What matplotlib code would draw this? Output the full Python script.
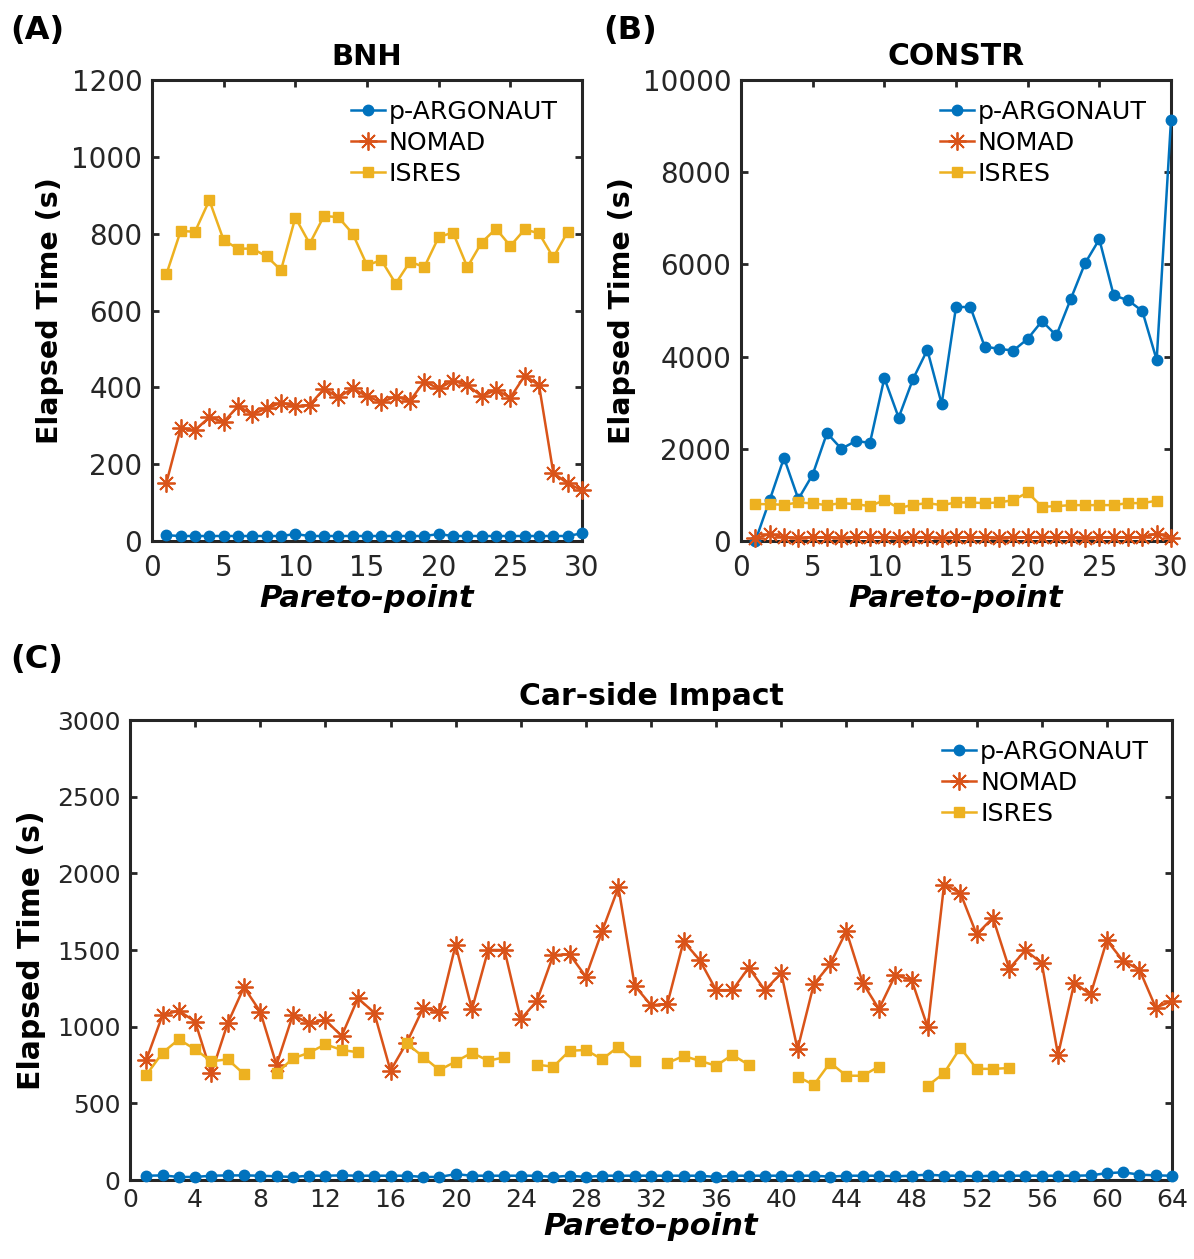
import numpy as np
import matplotlib
matplotlib.use("Agg")
import matplotlib.pyplot as plt

plt.rcParams['font.family'] = ['DejaVu Sans']

BLUE = '#0072BD'
ORANGE = '#D95319'
YELLOW = '#EDB120'
SPINE = '#262626'

series_names = ['p-ARGONAUT', 'NOMAD', 'ISRES']

# ---------------- Panel A: BNH ----------------
bnh_x = list(range(1, 31))
bnh_argonaut = [15, 13, 13, 13, 13, 13, 13, 13, 13, 18, 13, 13, 13, 13, 13,
                13, 13, 13, 13, 18, 13, 13, 13, 13, 13, 13, 13, 13, 13, 20]
bnh_nomad = [151, 293, 289, 322, 310, 351, 330, 345, 360, 351, 354, 396, 374, 397, 377,
             361, 376, 365, 415, 397, 417, 406, 377, 393, 373, 430, 406, 177, 150, 132]
bnh_isres_x = list(range(1, 30))
bnh_isres = [694, 807, 805, 887, 783, 761, 761, 741, 705, 842, 774, 846, 843, 800, 718,
             731, 670, 727, 713, 791, 803, 713, 777, 813, 768, 811, 801, 738, 805]

# ---------------- Panel B: CONSTR ----------------
con_x = list(range(1, 31))
con_argonaut = [0, 887, 1804, 909, 1440, 2342, 2000, 2167, 2131, 3534, 2676, 3513, 4145, 2972, 5076,
                5076, 4218, 4167, 4131, 4385, 4771, 4458, 5244, 6022, 6545, 5331, 5222, 4989, 3927, 9135]
con_nomad = [60, 150, 80, 75, 80, 80, 75, 80, 80, 85, 75, 80, 80, 75, 80,
             80, 80, 75, 80, 80, 85, 80, 80, 75, 80, 80, 80, 80, 160, 70]
con_isres_x = list(range(1, 30))
con_isres = [800, 800, 785, 836, 815, 778, 822, 800, 756, 887, 713, 785, 822, 778, 836,
             836, 822, 836, 887, 1054, 742, 756, 778, 778, 778, 778, 822, 822, 873]

# ---------------- Panel C: Car-side Impact ----------------
car_x = list(range(1, 65))
car_argonaut = [28, 30, 20, 20, 28, 30, 30, 28, 24, 20, 28, 28, 30, 28, 28, 28,
                28, 20, 20, 38, 28, 28, 28, 28, 28, 20, 28, 20, 28, 28, 28, 28,
                28, 28, 28, 20, 28, 28, 28, 28, 28, 28, 22, 28, 28, 28, 24, 28,
                35, 28, 28, 24, 28, 28, 28, 28, 28, 28, 30, 45, 50, 35, 30, 28]
car_nomad = [783, 1076, 1104, 1033, 696, 1022, 1257, 1098, 750, 1076, 1022, 1043, 939, 1185, 1091, 713,
             896, 1120, 1098, 1533, 1113, 1500, 1500, 1048, 1170, 1467, 1472, 1326, 1624, 1909, 1266, 1141,
             1147, 1556, 1433, 1238, 1238, 1385, 1238, 1350, 852, 1277, 1407, 1623, 1286, 1115, 1335, 1307,
             995, 1926, 1872, 1602, 1710, 1379, 1498, 1415, 816, 1286, 1210, 1563, 1428, 1372, 1125, 1166]
car_isres = [685, 830, 917, 852, 774, 787, 691, np.nan, 696, 793, 830, 885, 848, 833, np.nan, np.nan,
             891, 804, 717, 772, 830, 778, 800, np.nan, 752, 739, 843, 848, 787, 870, 774, np.nan,
             762, 809, 777, 745, 816, 751, np.nan, np.nan, 675, 620, 765, 680, 680, 740, np.nan, np.nan,
             615, 697, 863, 725, 725, 730, np.nan, np.nan, np.nan, np.nan, np.nan, np.nan, np.nan, np.nan,
             np.nan, np.nan]

ASTERISK = (8, 2, 0)


def style_axes(ax, xlim, xticks, ylim, yticks, tick_fs, xpad=9):
    ax.set_xlim(*xlim)
    ax.set_ylim(*ylim)
    ax.set_xticks(xticks)
    ax.set_yticks(yticks)
    for sp in ax.spines.values():
        sp.set_linewidth(2.2)
        sp.set_color(SPINE)
    ax.tick_params(direction='in', length=5, width=2, colors=SPINE,
                   labelsize=tick_fs, labelcolor=SPINE, top=True, right=True)
    ax.tick_params(axis='x', pad=xpad)
    ax.tick_params(axis='y', pad=7)


def draw(ax, xa, ya, xn, yn, xi, yi, leg_fs=18.2, anchor=(0.995, 0.995)):
    ax.plot(xa, ya, '-', marker='o', color=BLUE, lw=1.8, ms=7.5, clip_on=False, zorder=3,
            label=series_names[0])
    ax.plot(xn, yn, '-', marker=ASTERISK, color=ORANGE, lw=1.8, ms=13, markeredgewidth=1.3,
            clip_on=False, zorder=3, label=series_names[1])
    ax.plot(xi, yi, '-', marker='s', color=YELLOW, lw=1.8, ms=7.5, clip_on=False, zorder=3,
            label=series_names[2])
    ax.legend(loc='upper right', frameon=False, fontsize=leg_fs, handlelength=1.35,
              handletextpad=0.15, labelspacing=0.28, borderaxespad=0.3,
              bbox_to_anchor=anchor)


fig = plt.figure(figsize=(11.94, 12.59), dpi=100)

axA = fig.add_axes([152 / 1194, 1 - 541 / 1259, 430 / 1194, 461 / 1259])
draw(axA, bnh_x, bnh_argonaut, bnh_x, bnh_nomad, bnh_isres_x, bnh_isres, anchor=(0.985, 0.995))
style_axes(axA, (0, 30), range(0, 31, 5), (0, 1200), range(0, 1201, 200), 20)
axA.set_title('BNH', fontsize=21, fontweight='bold', pad=11)
axA.set_ylabel('Elapsed Time (s)', fontsize=20.5, fontweight='bold', labelpad=5)
axA.set_xlabel('Pareto-point', fontsize=22, fontweight='bold', style='italic', labelpad=2)

axB = fig.add_axes([741 / 1194, 1 - 541 / 1259, 430 / 1194, 461 / 1259])
draw(axB, con_x, con_argonaut, con_x, con_nomad, con_isres_x, con_isres, anchor=(0.985, 0.995))
style_axes(axB, (0, 30), range(0, 31, 5), (0, 10000), range(0, 10001, 2000), 20)
axB.set_title('CONSTR', fontsize=21.5, fontweight='bold', pad=11)
axB.set_ylabel('Elapsed Time (s)', fontsize=20.5, fontweight='bold', labelpad=5)
axB.set_xlabel('Pareto-point', fontsize=22, fontweight='bold', style='italic', labelpad=2)

axC = fig.add_axes([130 / 1194, 1 - 1180 / 1259, 1042 / 1194, 460 / 1259])
draw(axC, car_x, car_argonaut, car_x, car_nomad, car_x, car_isres, anchor=(0.995, 0.995))
style_axes(axC, (0, 64), range(0, 65, 4), (0, 3000), range(0, 3001, 500), 18, xpad=6)
axC.set_title('Car-side Impact', fontsize=21.5, fontweight='bold', pad=11)
axC.set_ylabel('Elapsed Time (s)', fontsize=21.5, fontweight='bold', labelpad=8)
axC.set_xlabel('Pareto-point', fontsize=22, fontweight='bold', style='italic', labelpad=0)

fig.text(10 / 1194, 1 - 30 / 1259, '(A)', fontsize=23, fontweight='bold', va='center', ha='left')
fig.text(603 / 1194, 1 - 30 / 1259, '(B)', fontsize=23, fontweight='bold', va='center', ha='left')
fig.text(10 / 1194, 1 - 660 / 1259, '(C)', fontsize=23, fontweight='bold', va='center', ha='left')

fig.savefig('out.png', dpi=100)
